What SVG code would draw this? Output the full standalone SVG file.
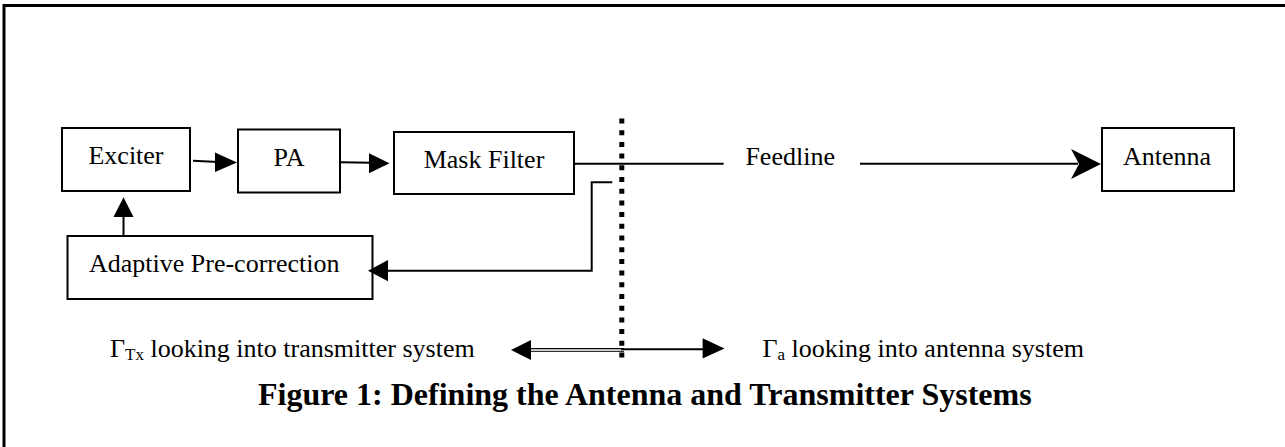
<svg xmlns="http://www.w3.org/2000/svg" width="1285" height="447" viewBox="0 0 1285 447">
<style>
.box{fill:#fff;stroke:#000;stroke-width:2}
.t{font-family:"Liberation Serif","Times New Roman",serif;font-size:26px;fill:#000}
.title{font-family:"Liberation Serif","Times New Roman",serif;font-size:32px;font-weight:bold;fill:#000}
.ln{stroke:#000;stroke-width:2;fill:none}
.ah{fill:#000;stroke:none}
</style>
<rect width="1285" height="447" fill="#fff"/>
<g id="frame">
<line x1="3" y1="5.5" x2="1285" y2="5.5" stroke="#000" stroke-width="3"/>
<line x1="4" y1="4" x2="4" y2="447" stroke="#000" stroke-width="3"/>
</g>
<g id="divider">
<line x1="621.8" y1="118.5" x2="621.8" y2="363" stroke="#000" stroke-width="5" stroke-dasharray="5 6.7"/>
</g>
<g id="exciter">
<rect class="box" x="62" y="128" width="128" height="63"/>
<text class="t" x="126" y="164" text-anchor="middle">Exciter</text>
</g>
<g id="pa">
<rect class="box" x="238" y="129.5" width="102" height="63"/>
<text class="t" x="289" y="166" text-anchor="middle">PA</text>
</g>
<g id="mask-filter">
<rect class="box" x="394" y="132" width="180" height="62"/>
<text class="t" x="484" y="167.5" text-anchor="middle">Mask Filter</text>
</g>
<g id="antenna">
<rect class="box" x="1102" y="128" width="132" height="63"/>
<text class="t" x="1167" y="165" text-anchor="middle">Antenna</text>
</g>
<g id="adaptive">
<rect class="box" x="67.5" y="236" width="305" height="63"/>
<text class="t" x="89" y="271.5">Adaptive Pre-correction</text>
</g>
<g id="connectors">
<line class="ln" x1="193" y1="160.8" x2="218" y2="162"/>
<polygon class="ah" points="237,162.5 215,152.5 215,172"/>
<line class="ln" x1="340.5" y1="162.3" x2="372" y2="162.8"/>
<polygon class="ah" points="389.5,163.3 369,153.3 369,173.3"/>
<line class="ln" x1="574" y1="163.7" x2="723.6" y2="163.7"/>
<text class="t" x="745.4" y="164.7">Feedline</text>
<line class="ln" x1="860" y1="163.7" x2="1078" y2="163.7"/>
<path class="ah" d="M1101,164 L1071,149 L1079,164 L1071,179 Z"/>
<polyline class="ln" points="612.3,182.3 591.7,182.3 591.7,270.7 385,270.7"/>
<polygon class="ah" points="368,270.7 388,260 388,281.3"/>
<line class="ln" x1="123.5" y1="236" x2="123.5" y2="214"/>
<polygon class="ah" points="123.5,197.3 113.5,217 133.5,217"/>
<line x1="528" y1="348.6" x2="624" y2="348.6" stroke="#000" stroke-width="1.2"/>
<line x1="528" y1="351.4" x2="624" y2="351.4" stroke="#333" stroke-width="1.2"/>
<polygon class="ah" points="511,350 531,340 531,360"/>
<line class="ln" x1="621" y1="349.3" x2="706" y2="349.3"/>
<polygon class="ah" points="724.5,348.5 702.6,338.3 702.6,358.5"/>
</g>
<g id="labels">
<text class="t" x="110" y="357">Γ<tspan font-size="17" dy="3">Tx</tspan><tspan dy="-3"> looking into transmitter system</tspan></text>
<text class="t" x="762.4" y="357.3">Γ<tspan font-size="17" dy="3">a</tspan><tspan dy="-3"> looking into antenna system</tspan></text>
<text class="title" x="258" y="405">Figure 1: Defining the Antenna and Transmitter Systems</text>
</g>
</svg>
